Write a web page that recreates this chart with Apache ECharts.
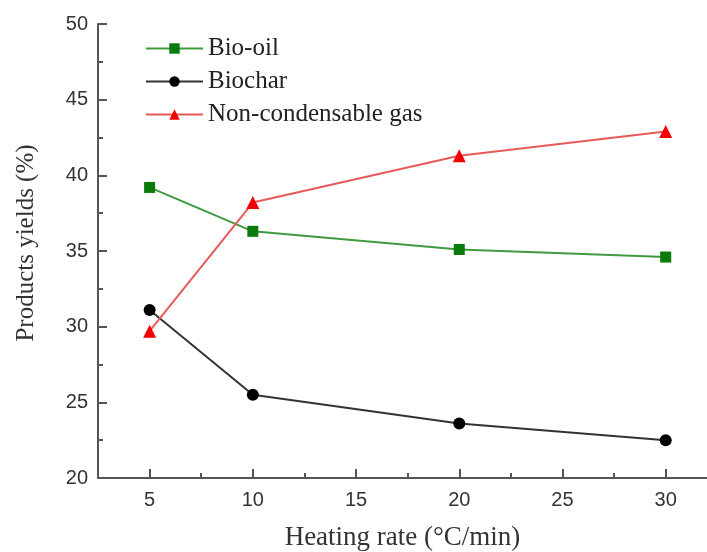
<!DOCTYPE html>
<html><head><meta charset="utf-8">
<script src="https://cdn.jsdelivr.net/npm/echarts@6/dist/echarts.min.js"></script>
<style>html,body{margin:0;padding:0;background:#fff}#c{width:707px;height:552px}</style>
</head><body><div id="c"></div>
<script>
const heatingRates = [5, 10, 20, 30];
const bioOil = [39.2, 36.3, 35.1, 34.6];
const biochar = [31.1, 25.5, 23.6, 22.5];
const gas = [29.7, 38.2, 41.3, 42.9];
const xMajorTicks = [5, 10, 15, 20, 25, 30];
const xMinorTicks = [2.5, 7.5, 12.5, 17.5, 22.5, 27.5];
const yMajorTicks = [20, 25, 30, 35, 40, 45, 50];
const yMinorTicks = [22.5, 27.5, 32.5, 37.5, 42.5, 47.5];

const axisCol = '#555';
const serif = 'Liberation Serif, Times New Roman, serif';
const labelStyle = {fontFamily: 'Liberation Sans, Arial', fontSize: 20, color: '#333'};
const chart = echarts.init(document.getElementById('c'));
const pair = (xs, ys) => xs.map((x, i) => [x, ys[i]]);
chart.setOption({
  animation: false,
  grid: {left: 98, right: 0, top: 24, bottom: 74, containLabel: false, outerBoundsMode: 'none'},
  legend: {
    orient: 'vertical', left: 145, top: 36, padding: 0, itemWidth: 57, itemHeight: 13, itemGap: 8,
    textStyle: {fontFamily: serif, fontSize: 25, color: '#222'},
    data: ['Bio-oil', 'Biochar', 'Non-condensable gas']
  },
  xAxis: [{
    type: 'value', min: 2.5, max: 32,
    name: 'Heating rate (°C/min)', nameLocation: 'middle', nameGap: 46,
    nameTextStyle: {fontFamily: serif, fontSize: 27, color: '#333'},
    axisLine: {show: true, lineStyle: {color: axisCol, width: 2}},
    axisTick: {show: true, inside: true, length: 9, lineStyle: {color: axisCol, width: 2}, customValues: xMajorTicks},
    axisLabel: {...labelStyle, margin: 12, customValues: xMajorTicks},
    splitLine: {show: false}
  }, {
    type: 'value', min: 2.5, max: 32, position: 'bottom',
    axisLine: {show: false},
    axisTick: {show: true, inside: true, length: 5, lineStyle: {color: axisCol, width: 2}, customValues: xMinorTicks},
    axisLabel: {show: false},
    splitLine: {show: false}
  }],
  yAxis: [{
    type: 'value', min: 20, max: 50,
    name: 'Products yields (%)', nameLocation: 'middle', nameGap: 59,
    nameTextStyle: {fontFamily: serif, fontSize: 25, color: '#333', padding: [0, 0, 0, 16]},
    axisLine: {show: true, lineStyle: {color: axisCol, width: 2}},
    axisTick: {show: true, inside: true, length: 9, lineStyle: {color: axisCol, width: 2}, customValues: yMajorTicks},
    axisLabel: {...labelStyle, margin: 10, customValues: yMajorTicks},
    splitLine: {show: false}
  }, {
    type: 'value', min: 20, max: 50, position: 'left',
    axisLine: {show: false},
    axisTick: {show: true, inside: true, length: 5, lineStyle: {color: axisCol, width: 2}, customValues: yMinorTicks},
    axisLabel: {show: false},
    splitLine: {show: false}
  }],
  series: [{
    name: 'Bio-oil', type: 'line', data: pair(heatingRates, bioOil),
    symbol: 'rect', symbolSize: 11,
    itemStyle: {color: '#0a7a0a'}, lineStyle: {color: '#3f9a3f', width: 2}
  }, {
    name: 'Biochar', type: 'line', data: pair(heatingRates, biochar),
    symbol: 'circle', symbolSize: 12,
    itemStyle: {color: '#000'}, lineStyle: {color: '#333', width: 2}
  }, {
    name: 'Non-condensable gas', type: 'line', data: pair(heatingRates, gas),
    symbol: 'triangle', symbolSize: 13,
    itemStyle: {color: '#f00000'}, lineStyle: {color: '#e85a5a', width: 2}
  }]
});
</script></body></html>
